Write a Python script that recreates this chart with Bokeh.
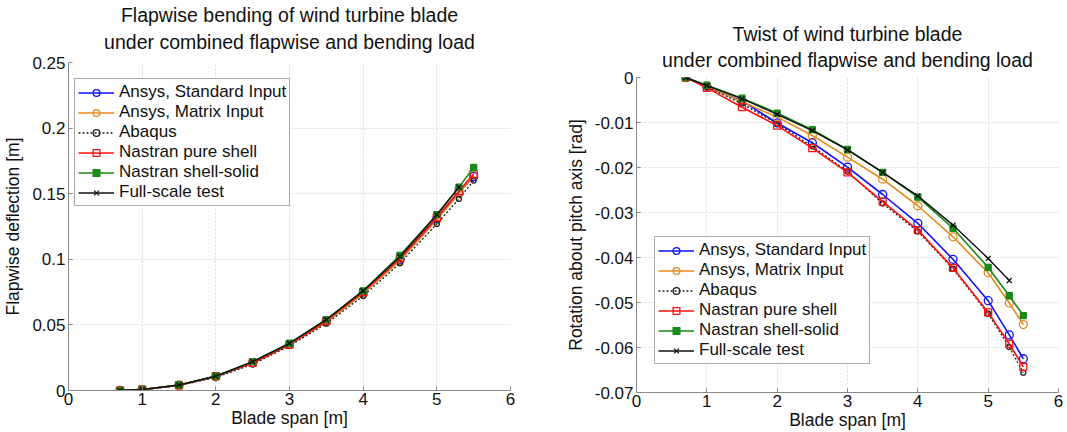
from bokeh.plotting import figure
from bokeh.layouts import row, column
from bokeh.models import Range1d, FixedTicker, CustomJSTickFormatter, Title
from bokeh.embed import file_html
from bokeh.resources import INLINE

# ---------------- data ----------------
span = [0.7, 1, 1.5, 2, 2.5, 3, 3.5, 4, 4.5, 5, 5.3, 5.5]
span_test = [0.7, 1, 1.5, 2, 2.5, 3, 3.5, 4, 4.5, 5, 5.3]

series_names = ["Ansys, Standard Input", "Ansys, Matrix Input", "Abaqus",
                "Nastran pure shell", "Nastran shell-solid", "Full-scale test"]

# Flapwise deflection [m]
flap_ansys_std = [0, 0.0007, 0.0040, 0.0105, 0.021, 0.035, 0.053, 0.074, 0.100, 0.131, 0.151, 0.163]
flap_ansys_mat = [0, 0.0007, 0.0040, 0.0105, 0.021, 0.035, 0.052, 0.074, 0.099, 0.130, 0.150, 0.164]
flap_abaqus = [0, 0.0006, 0.0038, 0.0100, 0.020, 0.034, 0.051, 0.072, 0.097, 0.127, 0.146, 0.160]
flap_nas_shell = [0, 0.0007, 0.0040, 0.0110, 0.021, 0.035, 0.053, 0.075, 0.101, 0.132, 0.152, 0.165]
flap_nas_solid = [0, 0.0008, 0.0042, 0.0110, 0.022, 0.036, 0.054, 0.076, 0.103, 0.134, 0.155, 0.170]
flap_test = [0, 0.0008, 0.0042, 0.0110, 0.022, 0.036, 0.054, 0.076, 0.102, 0.134, 0.155]

# Rotation about pitch axis [rad]
twist_ansys_std = [0, -0.0020, -0.0052, -0.0101, -0.0145, -0.0199, -0.0260, -0.0324, -0.0404, -0.0496, -0.0572, -0.0625]
twist_ansys_mat = [0, -0.0019, -0.0054, -0.0088, -0.0129, -0.0177, -0.0226, -0.0285, -0.0354, -0.0434, -0.0501, -0.0549]
twist_abaqus = [0, -0.0021, -0.0058, -0.0103, -0.0153, -0.0209, -0.0280, -0.0342, -0.0425, -0.0525, -0.0599, -0.0656]
twist_nas_shell = [0, -0.0023, -0.0066, -0.0107, -0.0157, -0.0211, -0.0276, -0.0339, -0.0423, -0.0522, -0.0592, -0.0643]
twist_nas_solid = [0, -0.0017, -0.0046, -0.0079, -0.0116, -0.0160, -0.0211, -0.0266, -0.0335, -0.0422, -0.0485, -0.0529]
twist_test = [0, -0.0018, -0.0047, -0.0082, -0.0118, -0.0161, -0.0211, -0.0263, -0.0328, -0.0402, -0.0451]

x_ticks = [0, 1, 2, 3, 4, 5, 6]
flap_ticks = [0, 0.05, 0.1, 0.15, 0.2, 0.25]
twist_ticks = [0, -0.01, -0.02, -0.03, -0.04, -0.05, -0.06, -0.07]

# ---------------- styles ----------------
FONT = "Liberation Sans"
TXT = "#111111"
styles = [
    dict(color="#1010ff", dash="solid", marker="circle", size=8, fill=None, lw=1.6),
    dict(color="#e8891c", dash="solid", marker="circle", size=8, fill=None, lw=1.6),
    dict(color="#202020", dash="2 2", marker="circle", size=5, fill=None, lw=1.3),
    dict(color="#ff1010", dash="solid", marker="square", size=7, fill=None, lw=1.6),
    dict(color="#1a8a1a", dash="solid", marker="square", size=6, fill="#1a8a1a", lw=1.6),
    dict(color="#111111", dash="solid", marker="x", size=7, fill=None, lw=1.4),
]

fmt = CustomJSTickFormatter(code="return String(Number(tick.toFixed(4)));")


def make_fig(width, height, bl, br, bt, bb, yr, yticks, ylabel, title1, title2,
             t1_so, t2_so, ys, xs_list, leg_loc):
    p = figure(width=width, height=height, output_backend="svg", toolbar_location=None,
               x_range=Range1d(0, 6), y_range=Range1d(*yr),
               min_border_left=bl, min_border_right=br, min_border_top=bt, min_border_bottom=bb)
    p.add_layout(Title(text=title2, align="center", text_font=FONT, text_font_size="19.5px",
                       text_font_style="normal", text_color=TXT, standoff=t2_so), "above")
    p.add_layout(Title(text=title1, align="center", text_font=FONT, text_font_size="19.5px",
                       text_font_style="normal", text_color=TXT, standoff=t1_so), "above")
    p.outline_line_color = None
    p.background_fill_color = "white"
    p.border_fill_color = "white"
    for ax in (p.xaxis[0], p.yaxis[0]):
        ax.major_label_text_font = FONT
        ax.major_label_text_font_size = "17px"
        ax.major_label_text_color = TXT
        ax.axis_label_text_font = FONT
        ax.axis_label_text_font_size = "17.5px"
        ax.axis_label_text_font_style = "normal"
        ax.axis_label_text_color = TXT
        ax.axis_line_color = "#8a8a8a"
        ax.major_tick_line_color = "#8a8a8a"
        ax.major_tick_in = 4
        ax.major_tick_out = 0
        ax.minor_tick_line_color = None
        ax.major_label_standoff = 3
    p.xaxis[0].ticker = FixedTicker(ticks=x_ticks)
    p.yaxis[0].ticker = FixedTicker(ticks=yticks)
    p.yaxis[0].formatter = fmt
    p.xaxis[0].axis_label = "Blade span [m]"
    p.xaxis[0].axis_label_standoff = 0
    p.xaxis[0].major_label_standoff = 2
    p.yaxis[0].axis_label = ylabel
    p.yaxis[0].axis_label_standoff = 6
    for g in (p.xgrid[0], p.ygrid[0]):
        g.grid_line_color = "#d9d9d9"
        g.grid_line_dash = "2 2"
        g.grid_line_width = 1

    for name, st, y, x in zip(series_names, styles, ys, xs_list):
        p.line(x, y, line_color=st["color"], line_width=st["lw"], line_dash=st["dash"],
               legend_label=name)
        p.scatter(x, y, marker=st["marker"], size=st["size"], line_color=st["color"],
                  fill_color=st["fill"], line_width=1.3, legend_label=name)

    lg = p.legend[0]
    lg.location = leg_loc
    lg.label_text_font = FONT
    lg.label_text_font_size = "17px"
    lg.label_text_color = TXT
    lg.label_height = 17
    lg.glyph_height = 17
    lg.glyph_width = 36
    lg.label_standoff = 5
    lg.spacing = 0
    lg.padding = 3
    lg.margin = 0
    lg.border_line_color = "#555555"
    lg.border_line_width = 1
    lg.background_fill_alpha = 1
    return p


xs = [span] * 5 + [span_test]

# left: frame page x 67..510, y 62..390
p1 = make_fig(530, 432, 67, 20, 62, 42, (0, 0.25), flap_ticks, "Flapwise deflection [m]",
              "Flapwise bending of wind turbine blade",
              "under combined flapwise and bending load", -13, 19,
              [flap_ansys_std, flap_ansys_mat, flap_abaqus, flap_nas_shell, flap_nas_solid, flap_test],
              xs, (6, 184))

# right: frame page x 636..1058, y 77..393
p2 = make_fig(537, 432, 106, 9, 77, 39, (-0.07, 0), twist_ticks, "Rotation about pitch axis [rad]",
              "Twist of wind turbine blade",
              "under combined flapwise and bending load", -9, 13,
              [twist_ansys_std, twist_ansys_mat, twist_abaqus, twist_nas_shell, twist_nas_solid, twist_test],
              xs, (18, 28))

layout = row(column(p1), column(p2), spacing=0)
open("out.html", "w").write(file_html(layout, INLINE))
